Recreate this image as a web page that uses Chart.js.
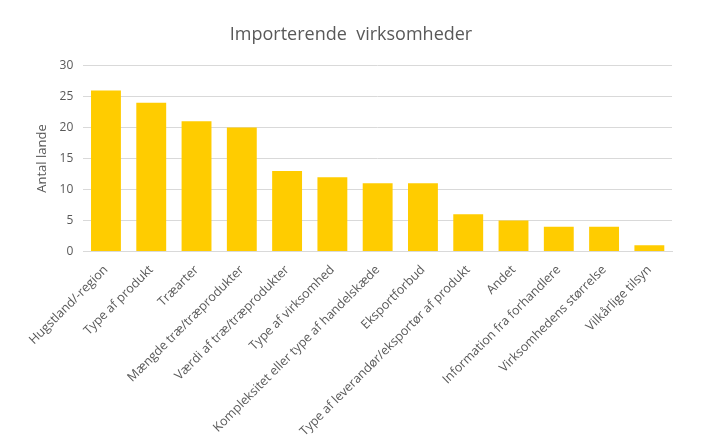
<!DOCTYPE html>
<html>
<head>
<meta charset="utf-8">
<script src="https://cdn.jsdelivr.net/npm/chart.js@4"></script>
<style>
    body { margin: 0; background: #fff; }
    #wrap { width: 701px; height: 446px; position: relative; }
</style>
</head>
<body>
<div id="wrap"><canvas id="importChart"></canvas></div>
<script>
const categories = [
    "Hugstland/-region",
    "Type af produkt",
    "Træarter",
    "Mængde træ/træprodukter",
    "Værdi af træ/træprodukter",
    "Type af virksomhed",
    "Kompleksitet eller type af handelskæde",
    "Eksportforbud",
    "Type af leverandør/eksportør af produkt",
    "Andet",
    "Information fra forhandlere",
    "Virksomhedens størrelse",
    "Vilkårlige tilsyn",
];
const antalLande = [26, 24, 21, 20, 13, 12, 11, 11, 6, 5, 4, 4, 1];

const textColor = "#595959";
const fontFamily = "'Open Sans', 'Noto Sans', sans-serif";

let importCtx = document.getElementById("importChart").getContext("2d");
let importChart = new Chart(importCtx, {
    type: "bar",
    data: {
        labels: categories,
        datasets: [
            {
                label: "Antal lande",
                data: antalLande,
                backgroundColor: "#FFCC00",
                categoryPercentage: 1,
                barPercentage: 0.66,
            },
        ],
    },
    options: {
        maintainAspectRatio: false,
        responsive: true,
        animation: false,
        layout: {
            padding: { left: 30, right: 29, top: 14, bottom: 4 },
        },
        plugins: {
            legend: { display: false },
            tooltip: { enabled: false },
            title: {
                display: true,
                text: "Importerende  virksomheder",
                color: textColor,
                font: { family: fontFamily, size: 18, weight: "normal" },
                padding: { top: 10, bottom: 20 },
            },
        },
        scales: {
            x: {
                grid: { display: false },
                border: { color: "#d9d9d9" },
                ticks: {
                    color: textColor,
                    font: { family: fontFamily, size: 12.5 },
                    minRotation: 45,
                    maxRotation: 45,
                    autoSkip: false,
                },
            },
            y: {
                min: 0,
                max: 30,
                ticks: {
                    stepSize: 5,
                    color: textColor,
                    font: { family: fontFamily, size: 12 },
                    padding: 10,
                },
                grid: { color: "#d9d9d9", drawTicks: false },
                border: { display: false },
                title: {
                    display: true,
                    text: "Antal lande",
                    color: textColor,
                    font: { family: fontFamily, size: 13 },
                    padding: { bottom: 0 },
                },
            },
        },
    },
});
</script>
</body>
</html>
